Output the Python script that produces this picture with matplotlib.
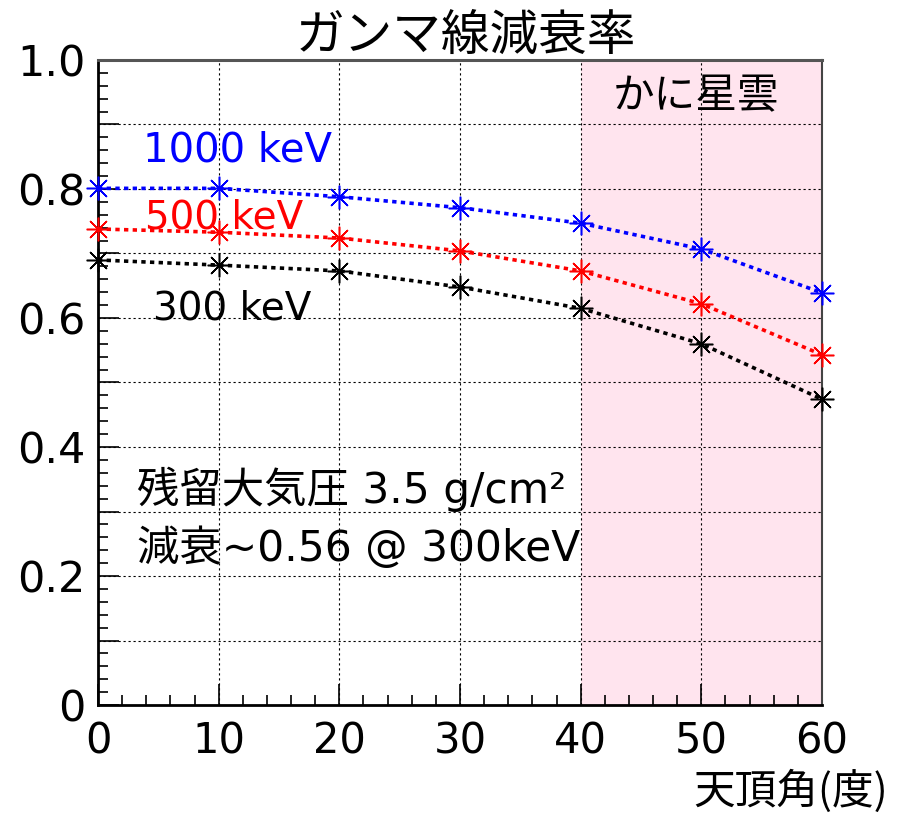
import matplotlib
matplotlib.use("Agg")
import matplotlib.pyplot as plt
from matplotlib.ticker import MultipleLocator

# zenith angle (deg) and attenuation for each energy
angle = [0, 10, 20, 30, 40, 50, 60]
att_1000 = [0.801, 0.801, 0.788, 0.771, 0.747, 0.707, 0.639]
att_500 = [0.738, 0.733, 0.724, 0.704, 0.673, 0.622, 0.543]
att_300 = [0.690, 0.682, 0.673, 0.648, 0.615, 0.560, 0.474]

crab_range = (40, 60)
yticks = [0, 0.2, 0.4, 0.6, 0.8, 1.0]
ylabels = ["0", "0.2", "0.4", "0.6", "0.8", "1.0"]

JP = ["DejaVu Sans", "Noto Sans CJK JP"]
CJK = ["Noto Sans CJK JP", "DejaVu Sans"]

fig = plt.figure(figsize=(9.05, 8.14), dpi=100)
ax = fig.add_axes([0.1083, 0.1339, 0.8, 0.7924])

ax.axvspan(crab_range[0], crab_range[1], color="#ffe4ee", zorder=0, lw=0)

ax.set_xlim(0, 60)
ax.set_ylim(0, 1.0)

# ticks: majors every 10 / 0.1, labels only every 0.2 on y
ax.set_xticks(angle)
ax.set_xticklabels([str(a) for a in angle], fontsize=30, family="DejaVu Sans")
ax.xaxis.set_minor_locator(MultipleLocator(2))
ymajor = [round(0.1 * i, 1) for i in range(11)]
ax.set_yticks(ymajor)
ax.set_yticklabels([ylabels[yticks.index(v)] if v in yticks else "" for v in ymajor],
                   fontsize=31, family="DejaVu Sans")
ax.yaxis.set_minor_locator(MultipleLocator(0.02))
ax.grid(True, which="major", color="black", lw=0.8, linestyle=(0, (2, 2.5)), zorder=1)

ax.tick_params(which="major", direction="in", length=15, width=1.2, pad=9)
ax.tick_params(which="minor", direction="in", length=7, width=1.2)
ax.tick_params(axis="x", which="major", pad=11)

for side in ["left", "bottom"]:
    ax.spines[side].set_linewidth(2)
ax.spines["top"].set_linewidth(2.2)
ax.spines["top"].set_color("#555555")
ax.spines["right"].set_linewidth(1.5)
ax.spines["right"].set_color("#444444")

star = (8, 2, 0)
style = dict(linestyle=(0, (1.2, 1.2)), lw=2.6, marker=star, ms=17, mew=1.1, zorder=3)
ax.plot(angle, att_1000, color="#0000ff", clip_on=False, **style)
ax.plot(angle, att_500, color="#ff0000", clip_on=False, **style)
ax.plot(angle, att_300, color="black", clip_on=False, **style)

# labels
ax.text(3.73, 0.843, "1000 keV", color="#0000ff", fontsize=29, family=JP)
ax.text(3.9, 0.738, "500 keV", color="#ff0000", fontsize=28, family=JP)
ax.text(4.56, 0.598, "300 keV", color="black", fontsize=28, family=JP)
ax.text(3.23, 0.313, "残留大気圧 3.5 g/cm²", fontsize=30.5, family=JP)
ax.text(3.23, 0.223, "減衰~0.56 @ 300keV", fontsize=30.5, family=JP)
ax.text(49.55, 0.943, "かに星雲", fontsize=30, family=CJK, ha="center", va="center")

fig.text(0.515, 0.955, "ガンマ線減衰率", fontsize=35, family=CJK, ha="center", va="center")
fig.text(0.981, 0.028, "天頂角(度)", fontsize=30, family=CJK, ha="right", va="center")

fig.savefig("out.png", dpi=100)
